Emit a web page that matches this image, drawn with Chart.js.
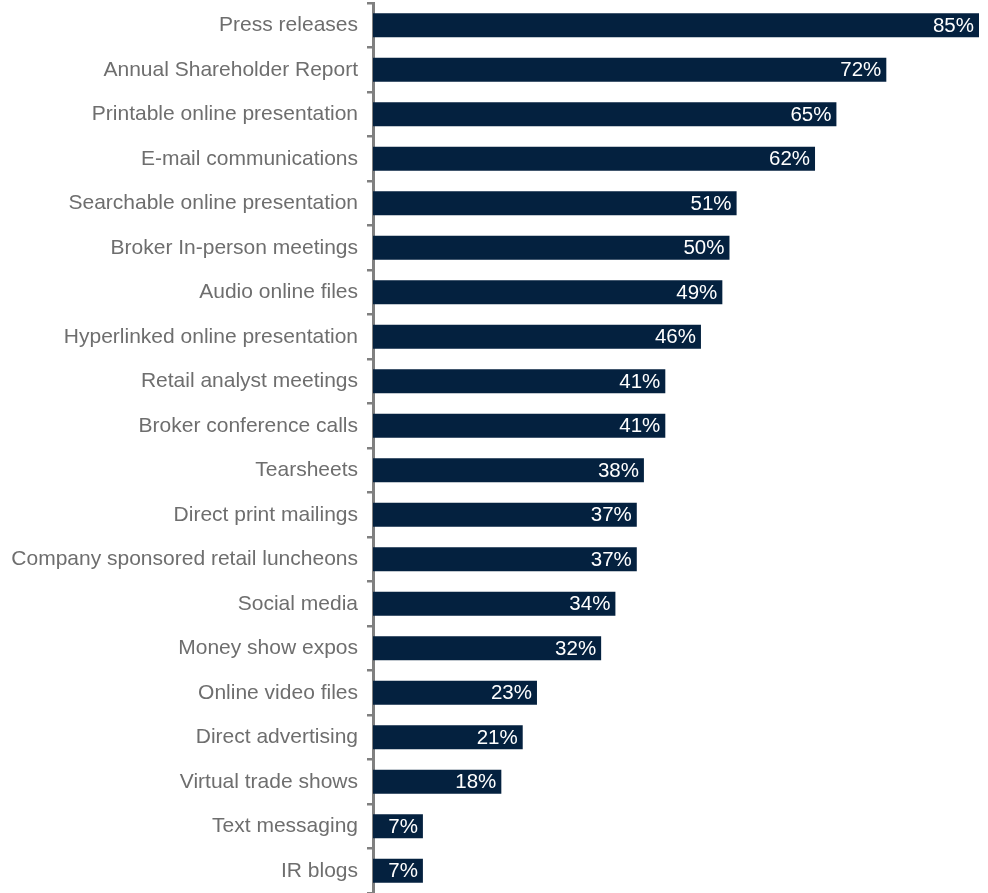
<!DOCTYPE html>
<html>
<head>
<meta charset="utf-8">
<script src="https://cdn.jsdelivr.net/npm/chart.js@4"></script>
<style>
  html, body { margin: 0; padding: 0; background: #fff; }
  #wrap { width: 988px; height: 893px; }
</style>
</head>
<body>
<div id="wrap"><canvas id="grafico"></canvas></div>
<script>
// Categorias e valores (%)
const categorias = [
  'Press releases', 'Annual Shareholder Report', 'Printable online presentation',
  'E-mail communications', 'Searchable online presentation', 'Broker In-person meetings',
  'Audio online files', 'Hyperlinked online presentation', 'Retail analyst meetings',
  'Broker conference calls', 'Tearsheets', 'Direct print mailings',
  'Company sponsored retail luncheons', 'Social media', 'Money show expos',
  'Online video files', 'Direct advertising', 'Virtual trade shows',
  'Text messaging', 'IR blogs'
];
const valores = [85, 72, 65, 62, 51, 50, 49, 46, 41, 41, 38, 37, 37, 34, 32, 23, 21, 18, 7, 7];

const fonte = '"Liberation Sans", Arial, Helvetica, sans-serif';

// rótulos brancos dentro da ponta da barra
const rotulosBarras = {
  id: 'rotulosBarras',
  afterDatasetsDraw(chart) {
    const ctx = chart.ctx;
    const meta = chart.getDatasetMeta(0);
    ctx.save();
    ctx.fillStyle = '#ffffff';
    ctx.font = '20.5px ' + fonte;
    ctx.textAlign = 'right';
    ctx.textBaseline = 'middle';
    meta.data.forEach((bar, i) => {
      ctx.fillText(valores[i] + '%', bar.x - 5, bar.y + 1);
    });
    ctx.restore();
  }
};

new Chart(document.getElementById('grafico'), {
  type: 'bar',
  data: {
    labels: categorias,
    datasets: [{
      data: valores,
      backgroundColor: '#04213f',
      borderWidth: 0,
      categoryPercentage: 1,
      barPercentage: 0.54
    }]
  },
  plugins: [rotulosBarras],
  options: {
    indexAxis: 'y',
    responsive: true,
    maintainAspectRatio: false,
    animation: false,
    layout: { padding: { top: 3, right: 9, bottom: 0, left: 0 } },
    plugins: {
      legend: { display: false },
      tooltip: { enabled: false }
    },
    scales: {
      x: {
        display: false,
        min: 0,
        max: 85
      },
      y: {
        afterFit: function (scale) {
          scale.width = 373;
          scale.paddingTop = 0;
          scale.paddingBottom = 0;
        },
        border: { display: true, color: '#808080', width: 3 },
        grid: {
          drawOnChartArea: false,
          drawTicks: true,
          tickLength: 6,
          color: '#808080',
          lineWidth: 2.5
        },
        ticks: {
          padding: 9,
          color: '#6e6e6e',
          font: { family: fonte, size: 21 }
        }
      }
    }
  }
});
</script>
</body>
</html>
